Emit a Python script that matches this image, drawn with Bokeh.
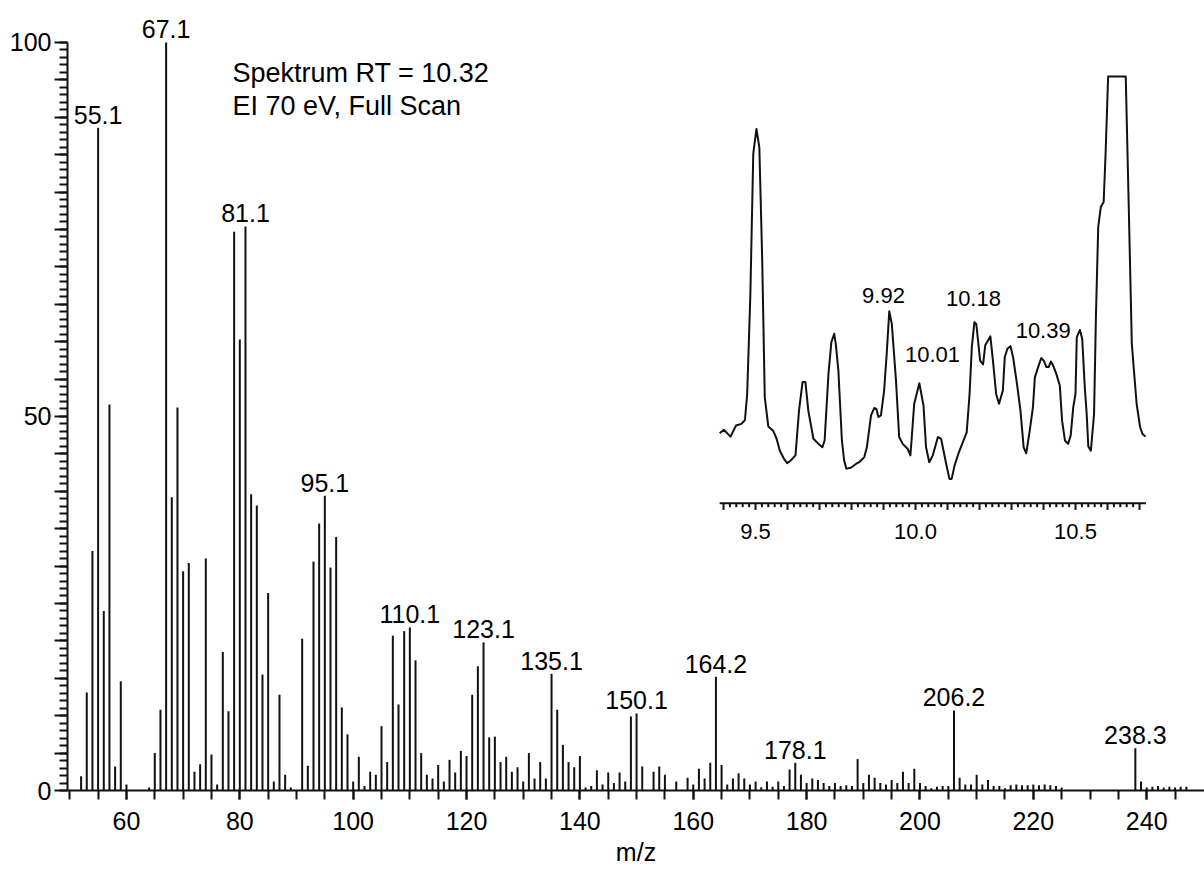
from bokeh.plotting import figure
from bokeh.models import Range1d, LinearAxis, FixedTicker, ColumnDataSource
from bokeh.core.properties import value
from bokeh.embed import file_html
from bokeh.resources import INLINE

# ---------------- mass spectrum data ----------------
mz = [52, 53, 54, 55, 56, 57, 58, 59, 60, 64, 65, 66, 67, 68, 69, 70, 71, 72, 73, 74,
      75, 76, 77, 78, 79, 80, 81, 82, 83, 84, 85, 86, 87, 88, 89, 91, 92, 93, 94, 95,
      96, 97, 98, 99, 100, 101, 102, 103, 104, 105, 106, 107, 108, 109, 110, 111, 112,
      113, 114, 115, 116, 117, 118, 119, 120, 121, 122, 123, 124, 125, 126, 127, 128,
      129, 130, 131, 132, 133, 134, 135, 136, 137, 138, 139, 140, 141, 142, 143, 144,
      145, 146, 147, 148, 149, 150, 151, 153, 154, 155, 157, 159, 160, 161, 162, 163,
      164, 165, 166, 167, 168, 169, 170, 171, 172, 173, 174, 175, 176, 177, 178, 179,
      180, 181, 182, 183, 184, 185, 186, 187, 188, 189, 190, 191, 192, 193, 194, 195,
      196, 197, 198, 199, 200, 201, 202, 203, 204, 205, 206, 207, 208, 209, 210, 211,
      212, 213, 214, 215, 216, 217, 218, 219, 220, 221, 222, 223, 224, 225, 238, 239,
      240, 241, 242, 243, 244, 245, 246, 247]
intensity = [1.9, 13.1, 32.0, 88.6, 24.0, 51.6, 3.2, 14.6, 0.8, 0.4, 5.0, 10.8, 100.0,
             39.2, 51.2, 29.3, 30.4, 2.5, 3.5, 31.0, 4.8, 0.8, 18.5, 10.6, 74.7, 60.3,
             75.4, 39.6, 38.1, 15.5, 26.4, 1.2, 12.8, 2.1, 0.4, 20.3, 3.3, 30.6, 35.7,
             39.4, 29.8, 33.9, 11.1, 7.5, 1.2, 4.5, 0.6, 2.5, 2.1, 8.6, 3.8, 20.7, 11.5,
             21.3, 21.8, 17.4, 5.0, 2.1, 1.6, 3.4, 1.2, 4.1, 2.4, 5.3, 4.6, 12.8, 16.6,
             19.8, 7.1, 7.2, 3.8, 4.5, 2.5, 3.1, 1.2, 5.0, 1.6, 3.8, 1.6, 15.6, 10.8,
             6.1, 3.8, 3.1, 4.6, 0.4, 0.6, 2.7, 0.8, 2.4, 1.0, 2.4, 1.2, 9.9, 10.3, 3.2,
             2.5, 3.2, 2.1, 1.2, 1.7, 0.8, 2.9, 1.6, 3.7, 15.2, 3.4, 0.8, 1.6, 2.3, 1.6,
             0.8, 1.2, 0.45, 1.2, 0.5, 1.2, 0.6, 2.8, 3.7, 2.1, 1.0, 1.6, 1.4, 1.0, 0.6,
             1.0, 0.6, 0.7, 0.6, 4.2, 1.0, 2.1, 1.7, 1.0, 0.8, 1.4, 1.0, 2.5, 1.0, 2.9,
             1.0, 0.6, 0.3, 0.5, 0.6, 0.6, 10.7, 1.7, 0.8, 0.8, 2.1, 0.8, 1.4, 0.6, 0.6,
             0.3, 0.7, 0.8, 0.7, 0.7, 0.8, 0.7, 0.8, 0.7, 0.6, 0.4, 5.65, 1.2, 0.4, 0.5,
             0.6, 0.4, 0.5, 0.4, 0.5, 0.5]

label_mz = [55, 67, 81, 95, 110, 123, 135, 150, 164, 178, 206, 238]
label_text = ["55.1", "67.1", "81.1", "95.1", "110.1", "123.1", "135.1", "150.1",
              "164.2", "178.1", "206.2", "238.3"]

x_major_ticks = [60, 80, 100, 120, 140, 160, 180, 200, 220, 240]
x_minor_ticks = list(range(50, 250, 5))
y_major_ticks = list(range(0, 101, 5))
y_minor_ticks = list(range(0, 101, 1))
y_labelled = [0, 50, 100]

# ---------------- chromatogram (inset) data ----------------
rt = [9.388, 9.401, 9.422, 9.439, 9.456, 9.467, 9.474, 9.484, 9.493, 9.503, 9.512,
      9.521, 9.529, 9.540, 9.555, 9.566, 9.576, 9.589, 9.599, 9.610, 9.625, 9.636,
      9.647, 9.656, 9.665, 9.681, 9.697, 9.709, 9.716, 9.728, 9.737, 9.746, 9.751,
      9.759, 9.770, 9.777, 9.784, 9.798, 9.814, 9.824, 9.840, 9.848, 9.861, 9.871,
      9.878, 9.884, 9.892, 9.902, 9.910, 9.918, 9.926, 9.939, 9.949, 9.960, 9.976,
      9.984, 9.988, 9.996, 10.012, 10.025, 10.033, 10.043, 10.054, 10.070, 10.080,
      10.096, 10.106, 10.113, 10.122, 10.134, 10.148, 10.160, 10.169, 10.176, 10.184,
      10.190, 10.202, 10.211, 10.218, 10.234, 10.242, 10.252, 10.261, 10.273, 10.279,
      10.287, 10.297, 10.305, 10.317, 10.328, 10.338, 10.346, 10.357, 10.367, 10.373,
      10.385, 10.393, 10.401, 10.409, 10.416, 10.423, 10.430, 10.440, 10.451, 10.458,
      10.467, 10.477, 10.485, 10.493, 10.500, 10.504, 10.514, 10.521, 10.529, 10.535,
      10.540, 10.548, 10.558, 10.564, 10.571, 10.579, 10.588, 10.594, 10.602, 10.657,
      10.665, 10.676, 10.691, 10.702, 10.709, 10.719]
tic = [16.4, 17.2, 15.6, 18.2, 18.6, 19.5, 25.6, 49.1, 81.9, 87.7, 83.4, 56.9, 24.8,
       18.0, 17.0, 15.1, 12.3, 10.4, 9.4, 10.0, 11.2, 21.7, 28.4, 28.4, 21.7, 15.1,
       13.9, 13.1, 14.7, 30.3, 37.7, 39.7, 37.3, 31.1, 14.7, 10.0, 8.1, 8.3, 9.2, 9.6,
       10.8, 13.1, 20.6, 22.3, 22.1, 20.2, 20.6, 26.4, 35.0, 45.0, 42.0, 28.8, 15.5,
       13.9, 12.7, 11.2, 15.1, 23.3, 28.1, 22.9, 13.1, 9.6, 11.2, 15.5, 15.1, 9.2, 5.7,
       5.7, 8.8, 11.6, 14.3, 16.6, 25.6, 36.6, 42.4, 42.0, 33.4, 32.5, 37.0, 39.1, 33.4,
       25.6, 23.3, 26.4, 34.2, 36.2, 36.8, 34.2, 28.0, 21.7, 13.1, 11.7, 17.0, 22.5,
       29.5, 32.3, 34.0, 33.4, 31.9, 31.9, 33.2, 32.3, 30.3, 27.6, 19.4, 14.7, 13.9,
       15.9, 22.5, 25.6, 38.9, 40.6, 38.5, 27.2, 20.9, 13.3, 12.3, 20.9, 44.4, 64.7,
       69.4, 70.6, 81.9, 100.0, 100.0, 74.1, 37.3, 23.3, 17.8, 16.3, 15.6]

rt_label_x = [9.900, 10.053, 10.181, 10.399]
rt_label_y = [46.7, 33.0, 46.1, 38.5]
rt_label_text = ["9.92", "10.01", "10.18", "10.39"]

rt_tick_labels = [9.5, 10.0, 10.5]
rt_tick_text = ["9.5", "10.0", "10.5"]
rt_ticks = [round(9.40 + 0.02 * i, 2) for i in range(66)]
rt_axis_span = (9.388, 10.72)

annotation_lines = ["Spektrum RT = 10.32", "EI 70 eV, Full Scan"]

# ---------------- layout constants ----------------
FONT = "Liberation Sans"
INK = "#111111"
FRAME_W, FRAME_H = 1137, 790
INSET_Y = (-67.33, 117.81)
INSET_PX_PER_UNIT = FRAME_H / (INSET_Y[1] - INSET_Y[0])

p = figure(frame_width=FRAME_W, frame_height=FRAME_H,
           x_range=Range1d(49.6, 250.2), y_range=Range1d(0, 105.6),
           output_backend="svg", toolbar_location=None,
           x_axis_type=None, y_axis_type=None,
           min_border_left=67, min_border_right=0, min_border_top=0, min_border_bottom=82)
p.outline_line_color = None
p.xgrid.visible = False
p.ygrid.visible = False
p.background_fill_color = "white"
p.border_fill_color = "white"

p.extra_x_ranges = {"rt": Range1d(7.35, 7.35 + FRAME_W / 320.0)}
p.extra_y_ranges = {"ri": Range1d(*INSET_Y)}

# ----- axes -----
xaxis = LinearAxis(ticker=FixedTicker(ticks=x_major_ticks, minor_ticks=x_minor_ticks),
                   axis_label="m/z")
yaxis = LinearAxis(ticker=FixedTicker(ticks=y_major_ticks, minor_ticks=y_minor_ticks),
                   bounds=(0, 100))
for ax in (xaxis, yaxis):
    ax.axis_line_width = 2
    ax.axis_line_color = INK
    ax.major_tick_line_width = 2
    ax.minor_tick_line_width = 2
    ax.major_tick_line_color = INK
    ax.minor_tick_line_color = INK
    ax.major_tick_in = 0
    ax.minor_tick_in = 0
    ax.major_label_text_font = FONT
    ax.major_label_text_font_size = "25px"
    ax.major_label_text_color = "black"
    ax.axis_label_text_font = FONT
    ax.axis_label_text_font_size = "25px"
    ax.axis_label_text_font_style = "normal"
    ax.axis_label_text_color = "black"

xaxis.major_tick_out = 9
xaxis.minor_tick_out = 9
xaxis.major_label_standoff = 12
xaxis.axis_label_standoff = 5

yaxis.major_tick_out = 13
yaxis.minor_tick_out = 8
yaxis.major_label_standoff = 3
yaxis.major_label_overrides = {t: "" for t in y_major_ticks if t not in y_labelled}

p.add_layout(xaxis, "below")
p.add_layout(yaxis, "left")

# ----- spectrum sticks -----
src = ColumnDataSource(dict(mz=mz, zero=[0] * len(mz), inten=intensity))
p.segment(x0="mz", y0="zero", x1="mz", y1="inten", source=src,
          line_width=2, line_color=INK, line_cap="butt")

lab_y = [intensity[mz.index(m)] for m in label_mz]
p.text(x=label_mz, y=lab_y, text=label_text, text_align="center",
       text_baseline="alphabetic", y_offset=-13,
       text_font=value(FONT), text_font_size="25px", text_color="black")

# ----- annotation -----
p.text(x=[78.7, 78.7], y=[94.65, 90.24], text=annotation_lines,
       text_align="left", text_baseline="alphabetic", y_offset=-9.5,
       text_font=value(FONT), text_font_size="27px", text_color="black")

# ----- inset chromatogram -----
p.line(x=rt, y=tic, x_range_name="rt", y_range_name="ri",
       line_width=2, line_color=INK, line_join="round")

p.text(x=rt_label_x, y=rt_label_y, text=rt_label_text, x_range_name="rt",
       y_range_name="ri", text_align="center", text_baseline="alphabetic",
       y_offset=-8, text_font=value(FONT), text_font_size="22px", text_color="black")

# inset axis line and ticks
p.segment(x0=[rt_axis_span[0]], y0=[0], x1=[rt_axis_span[1]], y1=[0],
          x_range_name="rt", y_range_name="ri", line_width=2, line_color=INK)
major_len = 6.7 / INSET_PX_PER_UNIT
minor_len = 4.0 / INSET_PX_PER_UNIT
tick_len = [major_len if abs(t * 10 - round(t * 10)) < 1e-6 else minor_len for t in rt_ticks]
p.segment(x0=rt_ticks, y0=[0] * len(rt_ticks), x1=rt_ticks, y1=[-l for l in tick_len],
          x_range_name="rt", y_range_name="ri", line_width=2, line_color=INK,
          line_cap="butt")
p.text(x=rt_tick_labels, y=[0] * len(rt_tick_labels), text=rt_tick_text,
       x_range_name="rt", y_range_name="ri", text_align="center",
       text_baseline="alphabetic", y_offset=28.6,
       text_font=value(FONT), text_font_size="22px", text_color="black")

open("out.html", "w").write(file_html(p, INLINE))
